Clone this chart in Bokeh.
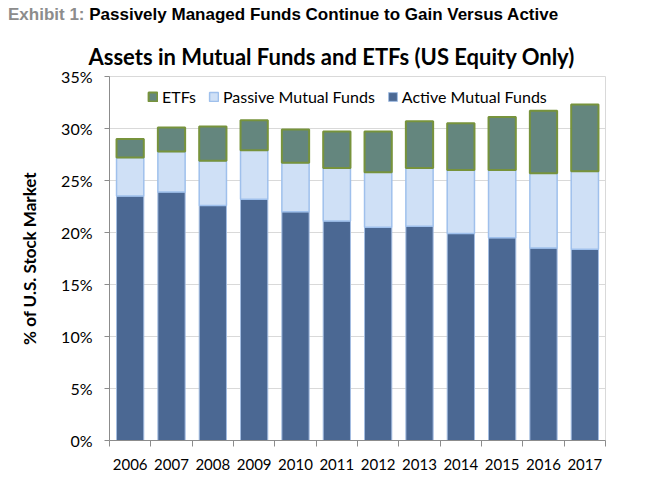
from bokeh.plotting import figure
from bokeh.layouts import column
from bokeh.models import (ColumnDataSource, Range1d, FixedTicker, PrintfTickFormatter,
                          Legend, LegendItem, Div)
from bokeh.embed import file_html
from bokeh.resources import INLINE

years = ["2006", "2007", "2008", "2009", "2010", "2011",
         "2012", "2013", "2014", "2015", "2016", "2017"]
active = [23.5, 23.9, 22.6, 23.2, 22.0, 21.1, 20.5, 20.6, 19.9, 19.5, 18.5, 18.4]
passive_top = [27.2, 27.8, 26.9, 27.9, 26.7, 26.2, 25.8, 26.2, 26.0, 26.0, 25.7, 25.9]
total_top = [29.0, 30.1, 30.2, 30.8, 29.9, 29.7, 29.7, 30.7, 30.5, 31.1, 31.7, 32.3]
passive = [round(p - a, 2) for p, a in zip(passive_top, active)]
etf = [round(t - p, 2) for t, p in zip(total_top, passive_top)]
y_ticks = [0, 5, 10, 15, 20, 25, 30, 35]

xs = [i + 0.5 for i in range(len(years))]
src = ColumnDataSource(dict(x=xs, active=active, passive=passive, etf=etf))

FONT = "Lato"
HEAD_H = 24

header = Div(
    text=('<div style="font-family:\'Liberation Sans\';font-weight:bold;font-size:17px;'
          'line-height:19px;padding:5px 0 0 8px;color:#000;white-space:nowrap">'
          '<span style="color:#8c8c8c">Exhibit 1:</span> '
          'Passively Managed Funds Continue to Gain Versus Active</div>'),
    width=652, height=HEAD_H, margin=(0, 0, 0, 0))

p = figure(width=652, height=490 - HEAD_H, output_backend="svg", toolbar_location=None,
           x_range=Range1d(0, len(years)), y_range=Range1d(0, 35),
           min_border_left=109, min_border_right=47, min_border_top=76 - HEAD_H,
           min_border_bottom=50, margin=(0, 0, 0, 0),
           title="Assets in Mutual Funds and ETFs (US Equity Only)")
p.title.text_font = FONT
p.title.text_font_style = "bold"
p.title.text_font_size = "22px"
p.title.text_color = "black"
p.title.align = "left"
p.title.offset = -21
p.title.standoff = 14
p.outline_line_color = "#d9d9d9"
p.background_fill_color = "white"

rs = p.vbar_stack(["active", "passive", "etf"], x="x", width=0.66, source=src,
                  fill_color=["#4b6893", "#cfe0f6", "#64867e"],
                  line_color=["#a3bde2", "#9fc0ec", "#77933c"],
                  line_width=[1, 1.5, 2])

legend = Legend(items=[LegendItem(label="ETFs", renderers=[rs[2]]),
                       LegendItem(label="Passive Mutual Funds", renderers=[rs[1]]),
                       LegendItem(label="Active Mutual Funds", renderers=[rs[0]])],
                orientation="horizontal", location=(38, 334),
                border_line_color=None, background_fill_alpha=0,
                glyph_width=11, glyph_height=11, label_standoff=4, spacing=12,
                padding=0, margin=0,
                label_text_font=FONT, label_text_font_size="16px", label_text_color="black")
p.add_layout(legend, "center")

p.xgrid.grid_line_color = None
p.ygrid.grid_line_color = "#d9d9d9"
p.ygrid.grid_line_width = 1

xa = p.xaxis[0]
xa.ticker = FixedTicker(ticks=xs, minor_ticks=list(range(len(years) + 1)))
xa.major_label_overrides = {x: y for x, y in zip(xs, years)}
xa.major_tick_in = 0
xa.major_tick_out = 0
xa.minor_tick_in = 0
xa.minor_tick_out = 6
xa.minor_tick_line_color = "#8c8c8c"
xa.axis_line_color = "#8c8c8c"
xa.major_label_standoff = 12
xa.major_label_text_font = FONT
xa.major_label_text_font_size = "15px"
xa.major_label_text_color = "black"

ya = p.yaxis[0]
ya.ticker = FixedTicker(ticks=y_ticks)
ya.formatter = PrintfTickFormatter(format="%d%%")
ya.major_tick_in = 0
ya.major_tick_out = 5
ya.minor_tick_line_color = None
ya.major_tick_line_color = "#8c8c8c"
ya.axis_line_color = "#8c8c8c"
ya.major_label_standoff = 12
ya.major_label_text_font = FONT
ya.major_label_text_font_size = "16px"
ya.major_label_text_color = "black"
ya.axis_label = "% of U.S. Stock Market"
ya.axis_label_text_font = FONT
ya.axis_label_text_font_style = "bold"
ya.axis_label_text_font_size = "17px"
ya.axis_label_text_color = "black"
ya.axis_label_standoff = 18

layout = column(header, p, spacing=0, margin=(0, 0, 0, 0))
open("out.html", "w").write(file_html(layout, INLINE))
